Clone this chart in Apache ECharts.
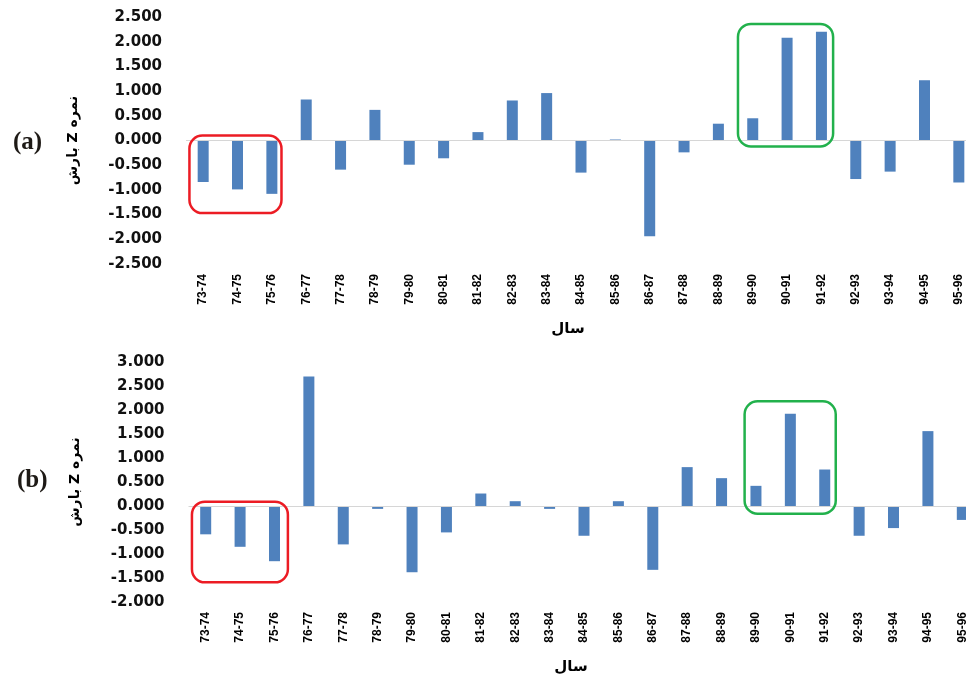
<!DOCTYPE html>
<html>
<head>
<meta charset="utf-8">
<script src="https://cdn.jsdelivr.net/npm/echarts@6/dist/echarts.min.js"></script>
<style>
  html, body { margin: 0; padding: 0; background: #fff; }
  #chart { width: 966px; height: 680px; }
</style>
</head>
<body>
<div id="chart"></div>
<script>
// Hydrological years (Persian calendar, two-digit)
const categories = ['73-74', '74-75', '75-76', '76-77', '77-78', '78-79', '79-80', '80-81',
  '81-82', '82-83', '83-84', '84-85', '85-86', '86-87', '87-88', '88-89', '89-90', '90-91',
  '91-92', '92-93', '93-94', '94-95', '95-96'];

// Precipitation Z-scores, panel (a) and panel (b)
const zScoreA = [-0.84, -0.99, -1.08, 0.83, -0.59, 0.62, -0.49, -0.36, 0.17, 0.81, 0.96, -0.65,
  0.02, -1.94, -0.24, 0.34, 0.45, 2.08, 2.20, -0.78, -0.63, 1.22, -0.85];
const zScoreB = [-0.59, -0.85, -1.15, 2.70, -0.80, -0.06, -1.38, -0.55, 0.26, 0.10, -0.06, -0.62,
  0.10, -1.33, 0.81, 0.58, 0.42, 1.92, 0.76, -0.62, -0.46, 1.56, -0.29];

// Y-axis ranges of the two panels
const yRangeA = [-2.5, 2.5];
const yRangeB = [-2, 3];

// Highlighted periods: dry years and wet years (category index ranges)
const dryPeriod = [0, 2];
const wetPeriod = [16, 18];

const BAR = '#4f81bd';
// Right-to-left embedding so the Persian title keeps its word order on the canvas
const axisTitle = '\u202Bنمره Z بارش\u202C';
const xTitle = 'سال';

function xAxisCfg(gridIndex) {
  return {
    type: 'category', gridIndex, data: categories,
    axisLine: { show: false, onZero: false }, axisTick: { show: false },
    axisLabel: { interval: 0, rotate: 90, margin: 10, color: '#000', fontWeight: 'bold',
      fontSize: 12, fontFamily: 'Liberation Sans' },
    name: xTitle, nameLocation: 'middle', nameGap: 58,
    nameTextStyle: { fontFamily: 'DejaVu Sans', fontWeight: 'bold', fontSize: 15, color: '#000',
      padding: [0, 26, 0, 0] }
  };
}
function yAxisCfg(gridIndex, range) {
  return {
    type: 'value', gridIndex, min: range[0], max: range[1], interval: 0.5,
    axisLine: { show: false }, axisTick: { show: false }, splitLine: { show: false },
    axisLabel: { color: '#111', fontWeight: 'bold', fontSize: 15, fontFamily: 'DejaVu Sans',
      margin: 24, formatter: v => v.toFixed(3) },
    name: axisTitle, nameLocation: 'middle', nameGap: 106,
    nameTextStyle: { fontFamily: 'DejaVu Sans', fontWeight: 'bold', fontSize: 14, color: '#000' }
  };
}
function barSeries(idx, values) {
  return {
    type: 'bar', xAxisIndex: idx, yAxisIndex: idx, data: values, barWidth: 11,
    itemStyle: { color: BAR }, silent: true,
    markLine: { silent: true, symbol: 'none', label: { show: false },
      lineStyle: { color: '#d6d6d6', width: 1, type: 'solid' }, data: [{ yAxis: 0 }] }
  };
}

const chart = echarts.init(document.getElementById('chart'));
chart.setOption({
  animation: false,
  backgroundColor: '#fff',
  title: [
    { text: '(a)', left: 8, top: 125, textStyle: { fontFamily: 'Liberation Serif', fontWeight: 'bold', fontSize: 25, color: '#1e1a16' } },
    { text: '(b)', left: 12, top: 463, textStyle: { fontFamily: 'Liberation Serif', fontWeight: 'bold', fontSize: 25, color: '#1e1a16' } }
  ],
  grid: [
    { left: 186, top: 17, width: 790, height: 247, outerBoundsMode: 'none' },
    { left: 188.5, top: 362, width: 791, height: 240, outerBoundsMode: 'none' }
  ],
  xAxis: [xAxisCfg(0), xAxisCfg(1)],
  yAxis: [yAxisCfg(0, yRangeA), yAxisCfg(1, yRangeB)],
  series: [barSeries(0, zScoreA), barSeries(1, zScoreB)]
});

// Rounded frames around the highlighted periods, placed from data coordinates
function frame(gridIndex, period, yTop, yBottom, padL, padR, color) {
  const c0 = chart.convertToPixel({ xAxisIndex: gridIndex }, period[0]);
  const c1 = chart.convertToPixel({ xAxisIndex: gridIndex }, period[0] + 1);
  const cN = chart.convertToPixel({ xAxisIndex: gridIndex }, period[1]);
  const band = c1 - c0;
  const x0 = c0 - padL * band, x1 = cN + padR * band;
  const y0 = chart.convertToPixel({ yAxisIndex: gridIndex }, yTop);
  const y1 = chart.convertToPixel({ yAxisIndex: gridIndex }, yBottom);
  return {
    type: 'rect', silent: true, z: 10,
    shape: { x: x0, y: y0, width: x1 - x0, height: y1 - y0, r: 13 },
    style: { fill: 'none', stroke: color, lineWidth: 2.5 }
  };
}
const RED = '#ec1c24', GREEN = '#22b14c';
chart.setOption({
  graphic: [
    frame(0, dryPeriod, 0.10, -1.47, 0.40, 0.28, RED),
    frame(0, wetPeriod, 2.36, -0.12, 0.43, 0.34, GREEN),
    frame(1, dryPeriod, 0.09, -1.59, 0.40, 0.39, RED),
    frame(1, wetPeriod, 2.18, -0.16, 0.33, 0.32, GREEN)
  ]
});
</script>
</body>
</html>
